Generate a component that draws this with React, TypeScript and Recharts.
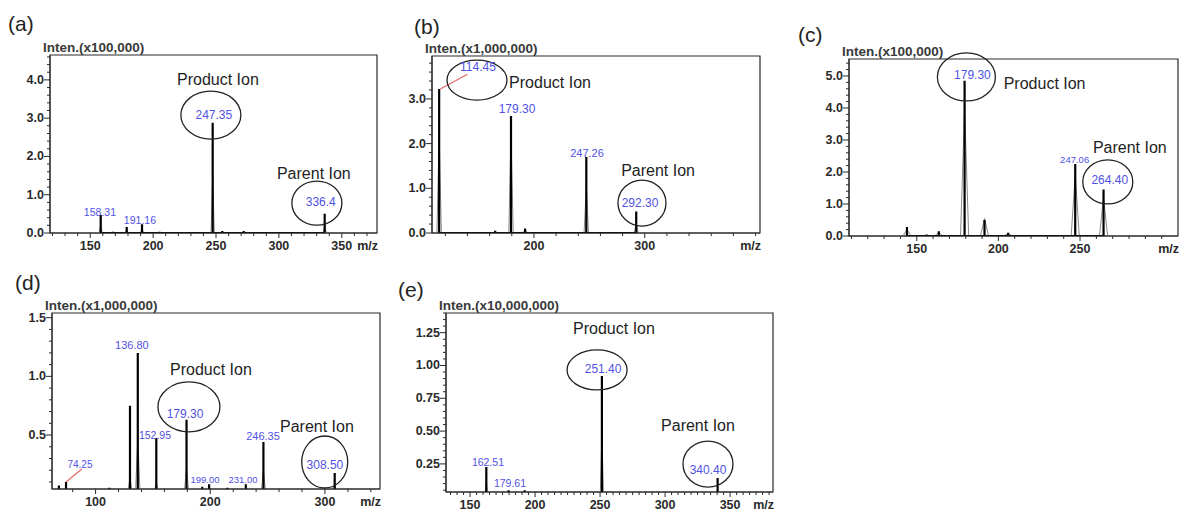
import React from 'react'
import {
    ComposedChart,
    Line,
    XAxis,
    YAxis,
    ReferenceArea,
    ReferenceDot,
    ReferenceLine,
} from 'recharts'

// Mass spectra (product ion scans). Intensities are in the units of each panel's
// y axis (x100,000 / x1,000,000 / ...). "Prof" is the height of the lighter
// profile outline drawn around the centroid stick (0 = none).

// ---- (a) ----
const aMz = [158.31, 168, 179, 191.16, 205, 247.35, 255, 272, 336.4]
const aInt = [0.47, 0.03, 0.16, 0.23, 0.03, 2.88, 0.05, 0.05, 0.5]
const aProf = [0.2, 0, 0.1, 0.12, 0, 1.45, 0, 0, 0.2]
const aXLabels = [150, 200, 250, 300, 350]
const aYLabels = [0, 1, 2, 3, 4]

// ---- (b) ----
const bMz = [114.45, 165, 179.3, 192, 247.26, 292.3]
const bInt = [3.22, 0.05, 2.62, 0.1, 1.7, 0.48]
const bProf = [2.2, 0, 2.2, 0.08, 1.05, 0.2]
const bXLabels = [200, 300]
const bYLabels = [0, 1, 2, 3]

// ---- (c) ----
const cMz = [144, 156, 163.5, 179.3, 191.5, 206, 247.06, 264.4]
const cInt = [0.28, 0.05, 0.15, 4.85, 0.5, 0.1, 2.25, 1.45]
const cProf = [0.2, 0, 0.12, 4.0, 0.55, 0.08, 1.9, 1.2]
const cXLabels = [150, 200, 250]
const cYLabels = [0, 1, 2, 3, 4, 5]

// ---- (d) ----
const dMz = [68, 74.25, 112, 130, 136.8, 152.95, 179.3, 193, 199.0, 215, 231.0, 246.35, 308.5]
const dInt = [0.07, 0.1, 0.05, 0.75, 1.2, 0.475, 0.63, 0.06, 0.08, 0.05, 0.08, 0.44, 0.176]
const dProf = [0, 0, 0, 0.14, 0.48, 0.1, 0.22, 0, 0, 0, 0, 0.2, 0.08]
const dXLabels = [100, 200, 300]
const dYLabels = [0.5, 1.0, 1.5]

// ---- (e) ----
const eMz = [162.51, 179.61, 192, 251.4, 340.4]
const eInt = [0.227, 0.05, 0.05, 0.92, 0.143]
const eProf = [0.12, 0, 0, 0.47, 0.06]
const eXLabels = [150, 200, 250, 300, 350]
const eYLabels = [0.25, 0.5, 0.75, 1.0, 1.25]

const FONT = '"Liberation Sans", Arial, Helvetica, sans-serif'
const INK = '#2a2a2a'
const BLUE = '#5151e4'
const RED = '#e06868'

type Tag = { t: string; x: number; y: number; size?: number }
type Ring = { x: number; y: number; rx: number; ry: number }
type Seg = [number, number, number, number]

interface PanelCfg {
    letter: string
    letterAt: [number, number]
    box: [number, number, number, number]
    scale: string
    mz: number[]
    inten: number[]
    prof: number[]
    hw: number
    xDomain: [number, number]
    xMajor: number[]
    xMinor: number
    yDomain: [number, number]
    yMajor: number[]
    yMinor: number
    yDigits: number
    tags: Tag[]
    ions: Tag[]
    rings: Ring[]
    leaders: Seg[]
}

const PANELS: PanelCfg[] = [
    {
        letter: '(a)', letterAt: [8, 13], box: [50, 55, 327, 178], scale: 'Inten.(x100,000)',
        mz: aMz, inten: aInt, prof: aProf, hw: 1.3,
        xDomain: [118, 378], xMajor: aXLabels, xMinor: 10,
        yDomain: [0, 4.65], yMajor: aYLabels, yMinor: 0.2, yDigits: 1,
        tags: [
            { t: '158.31', x: 157.7, y: 0.55, size: 10.5 },
            { t: '191.16', x: 189.5, y: 0.34, size: 10.5 },
            { t: '247.35', x: 248.3, y: 3.08 },
            { t: '336.4', x: 333.3, y: 0.81 },
        ],
        ions: [
            { t: 'Product Ion', x: 251.5, y: 4.02 },
            { t: 'Parent Ion', x: 327.8, y: 1.57 },
        ],
        rings: [
            { x: 245.9, y: 3.08, rx: 30, ry: 24 },
            { x: 330.2, y: 0.78, rx: 25, ry: 22 },
        ],
        leaders: [],
    },
    {
        letter: '(b)', letterAt: [414, 16], box: [432, 56, 328, 177], scale: 'Inten.(x1,000,000)',
        mz: bMz, inten: bInt, prof: bProf, hw: 2,
        xDomain: [108, 404], xMajor: bXLabels, xMinor: 20,
        yDomain: [0, 3.96], yMajor: bYLabels, yMinor: 0.2, yDigits: 1,
        tags: [
            { t: '114.45', x: 149.5, y: 3.71 },
            { t: '179.30', x: 184.7, y: 2.77 },
            { t: '247.26', x: 247.9, y: 1.79, size: 11 },
            { t: '292.30', x: 295.7, y: 0.67 },
        ],
        ions: [
            { t: 'Product Ion', x: 214.5, y: 3.36 },
            { t: 'Parent Ion', x: 312, y: 1.41 },
        ],
        rings: [
            { x: 148.6, y: 3.42, rx: 30, ry: 20 },
            { x: 297.5, y: 0.67, rx: 24, ry: 23 },
        ],
        leaders: [[115.5, 3.22, 140, 3.55]],
    },
    {
        letter: '(c)', letterAt: [798, 24], box: [849, 59, 329, 177], scale: 'Inten.(x100,000)',
        mz: cMz, inten: cInt, prof: cProf, hw: 2.5,
        xDomain: [108.5, 310], xMajor: cXLabels, xMinor: 10,
        yDomain: [0, 5.53], yMajor: cYLabels, yMinor: 0.2, yDigits: 1,
        tags: [
            { t: '179.30', x: 184.1, y: 5.03 },
            { t: '247.06', x: 246.7, y: 2.37, size: 9.5 },
            { t: '264.40', x: 268.2, y: 1.75 },
        ],
        ions: [
            { t: 'Product Ion', x: 228.3, y: 4.78 },
            { t: 'Parent Ion', x: 280.5, y: 2.78 },
        ],
        rings: [
            { x: 180.4, y: 4.97, rx: 29, ry: 24 },
            { x: 267, y: 1.69, rx: 25, ry: 22 },
        ],
        leaders: [],
    },
    {
        letter: '(d)', letterAt: [15, 272], box: [52, 313, 328, 176], scale: 'Inten.(x1,000,000)',
        mz: dMz, inten: dInt, prof: dProf, hw: 2,
        xDomain: [62, 348], xMajor: dXLabels, xMinor: 20,
        yDomain: [0.04, 1.54], yMajor: dYLabels, yMinor: 0.1, yDigits: 1,
        tags: [
            { t: '74.25', x: 86.4, y: 0.245, size: 10 },
            { t: '136.80', x: 131.7, y: 1.27, size: 11 },
            { t: '152.95', x: 151.8, y: 0.5, size: 10.5 },
            { t: '179.30', x: 178, y: 0.68 },
            { t: '199.00', x: 195.4, y: 0.117, size: 9.5 },
            { t: '231.00', x: 228.5, y: 0.117, size: 9.5 },
            { t: '246.35', x: 246, y: 0.49, size: 11 },
            { t: '308.50', x: 300, y: 0.244 },
        ],
        ions: [
            { t: 'Product Ion', x: 200.6, y: 1.06 },
            { t: 'Parent Ion', x: 293, y: 0.57 },
        ],
        rings: [
            { x: 181.4, y: 0.74, rx: 31, ry: 25 },
            { x: 299.8, y: 0.27, rx: 23, ry: 26 },
        ],
        leaders: [[74.25, 0.1, 88, 0.21]],
    },
    {
        letter: '(e)', letterAt: [398, 279], box: [446, 313, 327, 179], scale: 'Inten.(x10,000,000)',
        mz: eMz, inten: eInt, prof: eProf, hw: 1.3,
        xDomain: [131.5, 383], xMajor: eXLabels, xMinor: 5,
        yDomain: [0.036, 1.4], yMajor: eYLabels, yMinor: 0.05, yDigits: 2,
        tags: [
            { t: '162.51', x: 163.8, y: 0.265, size: 10.5 },
            { t: '179.61', x: 180.7, y: 0.105, size: 10.5 },
            { t: '251.40', x: 252.3, y: 0.973 },
            { t: '340.40', x: 333, y: 0.204 },
        ],
        ions: [
            { t: 'Product Ion', x: 260.7, y: 1.286 },
            { t: 'Parent Ion', x: 325.3, y: 0.547 },
        ],
        rings: [
            { x: 247.7, y: 0.966, rx: 30, ry: 20 },
            { x: 333, y: 0.249, rx: 25, ry: 23 },
        ],
        leaders: [],
    },
]

function steps(lo: number, hi: number, step: number) {
    const out: number[] = []
    const start = Math.ceil(lo / step - 1e-9)
    for (let i = start; i * step <= hi + 1e-9; i++) out.push(Math.round(i * step * 1000) / 1000)
    return out
}

function merge(...lists: number[][]) {
    const all = ([] as number[]).concat(...lists).sort((a, b) => a - b)
    return all.filter((v, i) => i === 0 || Math.abs(v - all[i - 1]) > 1e-6)
}

const has = (list: number[], v: number) => list.some((m) => Math.abs(m - v) < 1e-6)

// centroid sticks (s) go up and back down at the same m/z; profile outlines (p)
// are small triangles around the stick
function buildTable(mz: number[], inten: number[], prof: number[], hw: number) {
    const rows: { x: number; s?: number; p?: number }[] = []
    mz.forEach((m, i) => {
        if (prof[i] > 0) rows.push({ x: m - hw, p: 0 })
        rows.push({ x: m, s: 0 })
        rows.push({ x: m, s: inten[i], p: prof[i] > 0 ? prof[i] : undefined })
        rows.push({ x: m, s: 0 })
        if (prof[i] > 0) rows.push({ x: m + hw, p: 0 })
    })
    return rows
}

function Panel({ cfg }: { cfg: PanelCfg }) {
    const [L, T, W, H] = cfg.box
    const ml = 45
    const mt = 20
    const mr = 15
    const mb = 28
    const data = buildTable(cfg.mz, cfg.inten, cfg.prof, cfg.hw)
    const [x0, x1] = cfg.xDomain
    const [y0, y1] = cfg.yDomain
    const xTicks = merge(steps(x0, x1, cfg.xMinor), cfg.xMajor, [x1])
    const yTicks = merge(steps(y0, y1, cfg.yMinor), cfg.yMajor)

    // eslint-disable-next-line @typescript-eslint/no-explicit-any
    const xTick = (p: any) => {
        const v = p.payload.value as number
        const major = has(cfg.xMajor, v)
        if (Math.abs(v - x1) < 1e-6) {
            return (
                <text x={p.x + 1} y={p.y + 17} textAnchor="end" fontSize={12.5} fontWeight={700} fontFamily={FONT} fill={INK}>
                    m/z
                </text>
            )
        }
        return (
            <g>
                <line x1={p.x} y1={p.y} x2={p.x} y2={p.y + (major ? 5 : 3)} stroke={INK} strokeWidth={1} />
                {major && (
                    <text x={p.x} y={p.y + 17} textAnchor="middle" fontSize={12.5} fontWeight={700} fontFamily={FONT} fill={INK}>
                        {v}
                    </text>
                )}
            </g>
        )
    }

    // eslint-disable-next-line @typescript-eslint/no-explicit-any
    const yTick = (p: any) => {
        const v = p.payload.value as number
        const major = has(cfg.yMajor, v)
        return (
            <g>
                <line x1={p.x - (major ? 6 : 3)} y1={p.y} x2={p.x} y2={p.y} stroke={INK} strokeWidth={1} />
                {major && (
                    <text x={p.x - 6} y={p.y + 4} textAnchor="end" fontSize={12.5} fontWeight={700} fontFamily={FONT} fill={INK}>
                        {v.toFixed(cfg.yDigits)}
                    </text>
                )}
            </g>
        )
    }

    return (
        <div style={{ position: 'absolute', left: L - ml, top: T - mt }}>
            <ComposedChart
                width={W + ml + mr}
                height={H + mt + mb}
                data={data}
                margin={{ top: mt, right: mr, bottom: 0, left: 0 }}
            >
                <XAxis
                    dataKey="x"
                    type="number"
                    domain={cfg.xDomain}
                    allowDataOverflow
                    ticks={xTicks}
                    interval={0}
                    tickSize={0}
                    tickMargin={0}
                    tickLine={false}
                    axisLine={{ stroke: INK }}
                    tick={xTick}
                    height={mb}
                />
                <YAxis
                    type="number"
                    domain={cfg.yDomain}
                    allowDataOverflow
                    ticks={yTicks}
                    interval={0}
                    tickSize={0}
                    tickMargin={0}
                    tickLine={false}
                    axisLine={{ stroke: INK }}
                    tick={yTick}
                    width={ml}
                />
                <ReferenceArea x1={x0} x2={x1} y1={y0} y2={y1} fill="none" stroke={INK} strokeWidth={1.2} />
                <Line
                    dataKey="p"
                    type="linear"
                    stroke="#8a8a8a"
                    strokeWidth={1}
                    dot={false}
                    connectNulls
                    isAnimationActive={false}
                />
                <Line
                    dataKey="s"
                    type="linear"
                    stroke="#000"
                    strokeWidth={2.2}
                    dot={false}
                    connectNulls
                    isAnimationActive={false}
                />
                {cfg.leaders.map((s, i) => (
                    <ReferenceLine
                        key={`ld-${i}`}
                        segment={[{ x: s[0], y: s[1] }, { x: s[2], y: s[3] }]}
                        stroke={RED}
                        strokeWidth={1.2}
                    />
                ))}
                {cfg.rings.map((r, i) => (
                    <ReferenceDot
                        key={`rg-${i}`}
                        x={r.x}
                        y={r.y}
                        r={0}
                        // eslint-disable-next-line @typescript-eslint/no-explicit-any
                        shape={(p: any) => (
                            <ellipse cx={p.cx} cy={p.cy} rx={r.rx} ry={r.ry} fill="none" stroke="#222" strokeWidth={1.3} />
                        )}
                    />
                ))}
                {cfg.tags.map((t, i) => (
                    <ReferenceDot
                        key={`tg-${i}`}
                        x={t.x}
                        y={t.y}
                        r={0}
                        // eslint-disable-next-line @typescript-eslint/no-explicit-any
                        shape={(p: any) => (
                            <text x={p.cx} y={p.cy} dy="0.35em" textAnchor="middle" fontSize={t.size ?? 12} fontFamily={FONT} fill={BLUE}>
                                {t.t}
                            </text>
                        )}
                    />
                ))}
                {cfg.ions.map((t, i) => (
                    <ReferenceDot
                        key={`io-${i}`}
                        x={t.x}
                        y={t.y}
                        r={0}
                        // eslint-disable-next-line @typescript-eslint/no-explicit-any
                        shape={(p: any) => (
                            <text x={p.cx} y={p.cy} dy="0.35em" textAnchor="middle" fontSize={16} fontFamily={FONT} fill="#1e1e1e">
                                {t.t}
                            </text>
                        )}
                    />
                ))}
            </ComposedChart>
            <div
                style={{
                    position: 'absolute',
                    left: ml - 7,
                    top: mt - 14,
                    fontFamily: FONT,
                    fontWeight: 700,
                    fontSize: 13.5,
                    lineHeight: '14px',
                    color: '#3a3a3a',
                    whiteSpace: 'nowrap',
                }}
            >
                {cfg.scale}
            </div>
        </div>
    )
}

export default function App() {
    return (
        <div
            style={{
                position: 'absolute',
                left: 0,
                top: 0,
                width: 1181,
                height: 514,
                overflow: 'hidden',
                background: '#fff',
                fontFamily: FONT,
            }}
        >
            {PANELS.map((cfg) => (
                <React.Fragment key={cfg.letter}>
                    <div
                        style={{
                            position: 'absolute',
                            left: cfg.letterAt[0],
                            top: cfg.letterAt[1],
                            fontSize: 21,
                            lineHeight: 1,
                            color: '#222',
                            fontFamily: FONT,
                        }}
                    >
                        {cfg.letter}
                    </div>
                    <Panel cfg={cfg} />
                </React.Fragment>
            ))}
        </div>
    )
}
